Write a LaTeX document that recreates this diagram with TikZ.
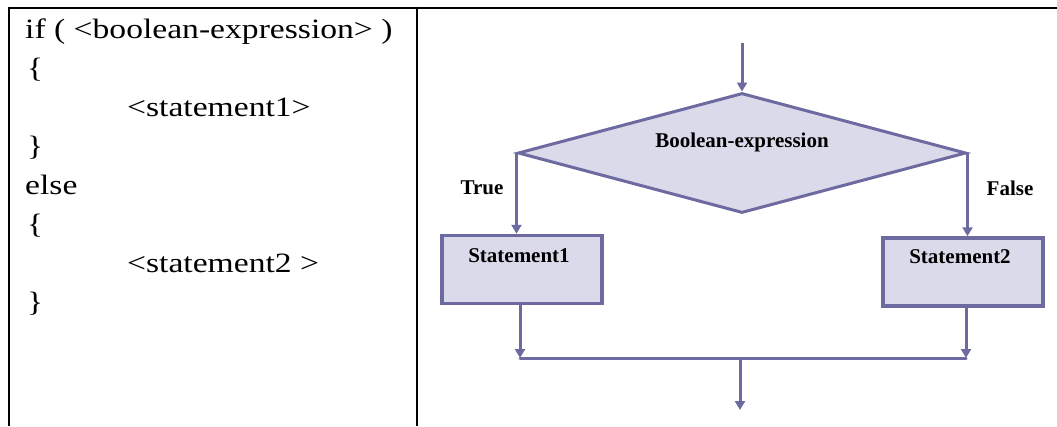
\documentclass[tikz,border=0pt]{standalone}
\usepackage{fontspec}
\setmainfont{Liberation Serif}
\newfontfamily\codefont[FakeStretch=1.2]{Liberation Serif}
\usetikzlibrary{shapes.geometric,arrows.meta}
\definecolor{ln}{RGB}{108,106,160}
\definecolor{fl}{RGB}{218,218,234}
\begin{document}
\begin{tikzpicture}[x=1pt,y=-1pt,
  frame/.style={line width=2pt,black},
  code/.style={anchor=base west,inner sep=0pt,font=\codefont\fontsize{28}{30}\selectfont},
  flow/.style={line width=3pt,draw=ln},
  arr/.style={flow,-{Triangle[width=10pt,length=9pt]}},
  dec/.style={diamond,draw=ln,fill=fl,line width=3pt,minimum width=448pt,minimum height=120pt,inner sep=0pt},
  stbox/.style={rectangle,draw=ln,fill=fl,line width=3.5pt,minimum width=160pt,minimum height=68pt,inner sep=0pt},
  lbl/.style={font=\bfseries\fontsize{21}{24}\selectfont,inner sep=0pt}]
\useasboundingbox (0,0) rectangle (1057,426);
% frame
\draw[frame] (8,7.5) -- (1057,7.5);
\draw[frame] (9,6.5) -- (9,426);
\draw[frame] (417,6.5) -- (417,426);
% code
\node[code] (c1) at (25,38) {if ( <boolean-expression> )};
\node[code] (c2) at (27,77) {\{};
\node[code] (c3) at (127,116) {<statement1>};
\node[code] (c4) at (27,155) {\}};
\node[code] (c5) at (25,194) {else};
\node[code] (c6) at (27,233) {\{};
\node[code] (c7) at (127,272) {<statement2 >};
\node[code] (c8) at (27,311) {\}};
% flowchart
\coordinate (start) at (742,43);
\node[dec] (dec) at (742,153) {};
\node[lbl] (dect) at (742,142) {Boolean-expression};
\node[stbox] (s1) at (522,269.5) {};
\node[lbl] (s1t) at (519,256) {Statement1};
\node[stbox] (s2) at (963,272) {};
\node[lbl] (s2t) at (960,257) {Statement2};
\node[lbl] (tr) at (482,188) {True};
\node[lbl] (fa) at (1010,188) {False};
\coordinate (m1) at (520,358);
\coordinate (m2) at (966,358);
\coordinate (mc) at (740,358);
\coordinate (end) at (740,410);
\draw[arr] (start) -- (dec.north);
\draw[arr] (dec.west) -- (dec.west |- s1.north);
\draw[arr] (dec.east) -- (dec.east |- s2.north);
\draw[arr] (s1.south -| m1) -- (m1);
\draw[arr] (s2.south -| m2) -- (m2);
\draw[flow,line cap=round] (m1) -- (m2);
\draw[arr] (mc) -- (end);
\end{tikzpicture}
\end{document}
